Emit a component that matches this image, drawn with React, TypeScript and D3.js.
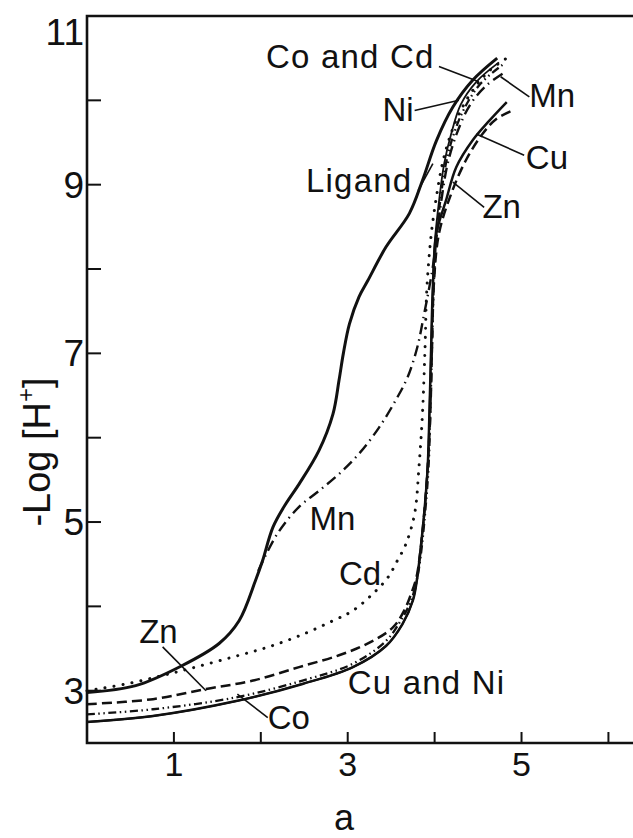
import React from 'react';
import * as d3 from 'd3';

const width = 633;
const height = 838;
const ink = '#111';
const font = '"Liberation Sans", Arial, sans-serif';

// -log[H+] against a
const ligand: [number, number][] = [
  [0, 2.98], [0.56, 3.06], [1.08, 3.29], [1.52, 3.56], [1.75, 3.83], [1.94, 4.31],
  [2.02, 4.54], [2.14, 4.94], [2.29, 5.22], [2.44, 5.45], [2.67, 5.85], [2.83, 6.28],
  [2.9, 6.68], [2.95, 7.0], [3.02, 7.35], [3.13, 7.67], [3.23, 7.86], [3.44, 8.26],
  [3.71, 8.66], [3.86, 9.05], [4.02, 9.52], [4.21, 9.92], [4.44, 10.24], [4.72, 10.5]
];
const manganese: [number, number][] = [
  [1.97, 4.42], [2.19, 4.86], [2.44, 5.18], [2.67, 5.37], [2.9, 5.57], [3.13, 5.81],
  [3.36, 6.12], [3.55, 6.44], [3.69, 6.72], [3.8, 7.07], [3.88, 7.47], [3.94, 7.79],
  [3.99, 8.1], [4.03, 8.45], [4.08, 8.83], [4.15, 9.25], [4.26, 9.62], [4.41, 9.95],
  [4.6, 10.18], [4.82, 10.34]
];
const cadmium: [number, number][] = [
  [0, 3.0], [0.45, 3.08], [0.87, 3.18], [1.25, 3.28], [1.68, 3.4], [2.06, 3.51],
  [2.44, 3.65], [2.83, 3.83], [3.06, 3.95], [3.29, 4.15], [3.46, 4.34], [3.57, 4.54],
  [3.67, 4.74], [3.77, 5.1], [3.82, 5.65], [3.86, 6.28], [3.89, 7.07], [3.91, 7.75],
  [3.96, 8.4], [4.02, 8.85], [4.09, 9.25], [4.18, 9.58], [4.3, 9.88], [4.46, 10.15],
  [4.64, 10.36], [4.83, 10.5]
];
const zinc: [number, number][] = [
  [0, 2.84], [0.76, 2.9], [1.37, 3.02], [1.91, 3.12], [2.44, 3.28], [2.9, 3.42],
  [3.25, 3.57], [3.52, 3.75], [3.65, 3.95], [3.73, 4.15], [3.79, 4.34], [3.83, 4.6],
  [3.88, 5.1], [3.92, 5.65], [3.95, 6.28], [3.97, 7.07], [3.99, 7.8], [4.05, 8.42],
  [4.19, 8.89], [4.36, 9.29], [4.55, 9.6], [4.71, 9.78], [4.9, 9.88]
];
const cobalt: [number, number][] = [
  [0, 2.72], [0.76, 2.78], [1.71, 2.92], [2.48, 3.12], [3.06, 3.32], [3.44, 3.59],
  [3.61, 3.83], [3.73, 4.07], [3.8, 4.34], [3.84, 4.6], [3.89, 5.1], [3.93, 5.65],
  [3.95, 6.28], [3.97, 7.07], [3.99, 7.8], [4.02, 8.4], [4.07, 8.85], [4.13, 9.25],
  [4.22, 9.6], [4.35, 9.92], [4.53, 10.2], [4.78, 10.42]
];
const copper: [number, number][] = [
  [0, 2.63], [0.76, 2.7], [1.73, 2.88], [2.48, 3.08], [3.06, 3.28], [3.44, 3.53],
  [3.63, 3.79], [3.75, 4.07], [3.8, 4.34], [3.83, 4.6], [3.88, 5.1], [3.92, 5.65],
  [3.94, 6.28], [3.96, 7.07], [3.98, 7.79], [4.02, 8.42], [4.13, 8.81], [4.25, 9.21],
  [4.44, 9.53], [4.63, 9.76], [4.83, 9.98]
];
const nickel: [number, number][] = [
  [0, 2.63], [0.76, 2.7], [1.73, 2.88], [2.48, 3.08], [3.06, 3.28], [3.44, 3.53],
  [3.63, 3.79], [3.75, 4.07], [3.8, 4.34], [3.83, 4.6], [3.88, 5.1], [3.92, 5.65],
  [3.94, 6.28], [3.96, 7.07], [3.98, 7.79], [4.0, 8.3], [4.05, 8.8], [4.11, 9.25],
  [4.19, 9.6], [4.3, 9.95], [4.48, 10.22], [4.74, 10.45]
];

const xTicks = [1, 2, 3, 4, 5, 6];
const xTickLabels = ['1', '3', '5'];
const yTicks = [3, 4, 5, 6, 7, 8, 9, 10];
const yTickLabels = ['3', '5', '7', '9', '11'];

// label text, anchor (a, pH), leader from -> to (a, pH)
const labelNames = ['Co and Cd', 'Ni', 'Mn', 'Cu', 'Zn', 'Ligand', 'Mn', 'Cd', 'Zn', 'Co', 'Cu and Ni'];
const labelAt: [number, number][] = [
  [2.06, 10.38], [3.4, 9.76], [5.09, 9.92], [5.05, 9.19], [4.55, 8.6], [2.52, 8.91],
  [2.56, 4.9], [2.9, 4.25], [0.6, 3.57], [2.08, 2.55], [3.0, 2.96]
];
const leaders: ([number, number, number, number] | null)[] = [
  [4.05, 10.4, 4.51, 10.22], [3.77, 9.88, 4.28, 10.0], [5.09, 10.04, 4.76, 10.28],
  [5.03, 9.35, 4.48, 9.6], [4.57, 8.73, 4.21, 9.03], [3.81, 8.93, 3.98, 9.25],
  null, null, [0.87, 3.52, 1.37, 3.0], [2.08, 2.68, 1.73, 2.96], null
];

const x = d3.scaleLinear().domain([0, 6.3]).range([87, 634.5]);
const y = d3.scaleLinear().domain([2.38, 11]).range([743, 16]);
const line = d3.line<[number, number]>()
  .x(d => x(d[0]))
  .y(d => y(d[1]))
  .curve(d3.curveCatmullRom.alpha(0.5));

const series = [
  { data: ligand, w: 3, dash: null, cap: 'butt' },
  { data: copper, w: 2.5, dash: null, cap: 'butt' },
  { data: nickel, w: 1.8, dash: null, cap: 'butt' },
  { data: manganese, w: 2.4, dash: '11 5 1.5 5', cap: 'butt' },
  { data: cadmium, w: 3, dash: '0.1 9', cap: 'round' },
  { data: zinc, w: 2.5, dash: '10 5', cap: 'butt' },
  { data: cobalt, w: 2.3, dash: '8 3.5 1.5 3.5 1.5 3.5', cap: 'butt' }
];

export default function App() {
  return (
    <svg width={width} height={height} style={{ position: 'absolute', left: 0, top: 0, background: '#fff' }}>
      {/* frame: left, top, bottom */}
      <path
        d={`M${width},${y(11)}H${x(0)}V${y(2.38)}H${width}`}
        fill="none"
        stroke={ink}
        strokeWidth={2.6}
      />
      {xTicks.map(t => (
        <line key={'xt' + t} x1={x(t)} x2={x(t)} y1={y(2.38)} y2={y(2.38) - 11} stroke={ink} strokeWidth={2} />
      ))}
      {yTicks.map(t => (
        <line key={'yt' + t} x1={x(0)} x2={x(0) + 14} y1={y(t)} y2={y(t)} stroke={ink} strokeWidth={2} />
      ))}
      {xTickLabels.map(t => (
        <text key={'xl' + t} x={x(+t)} y={y(2.38) + 33} textAnchor="middle" fontFamily={font} fontSize={34} fill={ink}>
          {t}
        </text>
      ))}
      {yTickLabels.map(t => (
        <text
          key={'yl' + t}
          x={x(0) - 3}
          y={t === '11' ? y(11) + 29 : y(+t) + 13}
          textAnchor="end"
          fontFamily={font}
          fontSize={37}
          fill={ink}
        >
          {t}
        </text>
      ))}
      <text x={344} y={830} textAnchor="middle" fontFamily={font} fontSize={36} fill={ink}>a</text>
      <text
        transform="translate(50,452) rotate(-90)"
        textAnchor="middle"
        fontFamily={font}
        fontSize={38}
        fill={ink}
      >
        -Log [H<tspan fontSize={24} dy={-16}>+</tspan><tspan dy={16}>]</tspan>
      </text>

      {series.map((s, i) => (
        <path
          key={'s' + i}
          d={line(s.data) || ''}
          fill="none"
          stroke={ink}
          strokeWidth={s.w}
          strokeDasharray={s.dash || undefined}
          strokeLinecap={s.cap as 'butt' | 'round'}
        />
      ))}

      {leaders.map((l, i) =>
        l ? (
          <line key={'ld' + i} x1={x(l[0])} y1={y(l[1])} x2={x(l[2])} y2={y(l[3])} stroke={ink} strokeWidth={1.6} />
        ) : null
      )}
      {labelNames.map((n, i) => (
        <text
          key={'lb' + i}
          x={x(labelAt[i][0])}
          y={y(labelAt[i][1])}
          fontFamily={font}
          fontSize={33}
          letterSpacing={n.length > 3 ? 1.2 : 0}
          fill={ink}
        >
          {n}
        </text>
      ))}
    </svg>
  );
}
